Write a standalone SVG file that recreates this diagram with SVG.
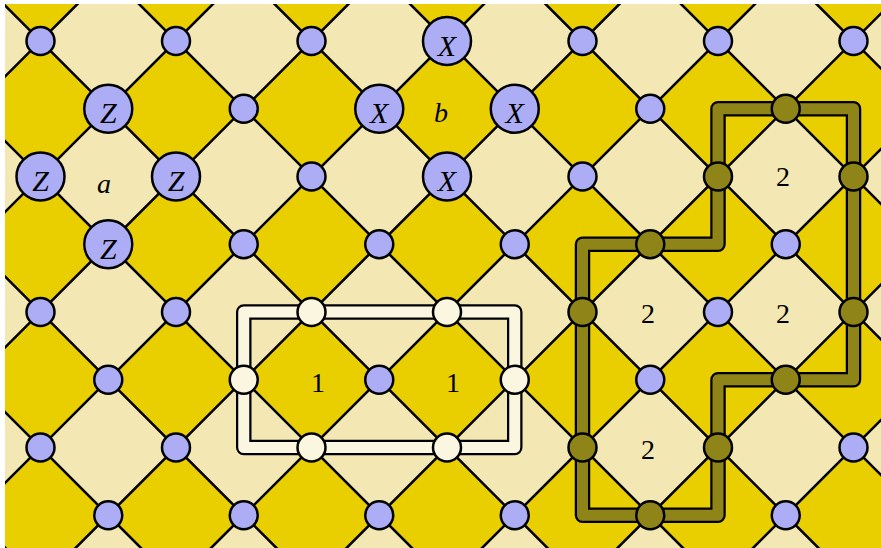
<svg xmlns="http://www.w3.org/2000/svg" xmlns:xlink="http://www.w3.org/1999/xlink" width="881" height="548" viewBox="0 0 881 548">
<style>
.lt{fill:#F3E7B3}
.dk{fill:#E9CF00}
.ln{stroke:#000;stroke-width:2.6;fill:none}
.q{fill:#ADADF5;stroke:#000;stroke-width:2.5}
.qc{fill:#FBF6DF;stroke:#000;stroke-width:2.5}
.qo{fill:#8E8418;stroke:#000;stroke-width:2.5}
.big{font-family:"Liberation Serif","DejaVu Serif",serif;font-style:italic;font-size:30px;text-anchor:middle;fill:#000}
.lab{font-family:"Liberation Serif","DejaVu Serif",serif;font-size:28px;text-anchor:middle;fill:#000}
.labi{font-family:"Liberation Serif","DejaVu Serif",serif;font-style:italic;font-size:28px;text-anchor:middle;fill:#000}
.lpo{fill:none;stroke:#000;stroke-width:15.5;stroke-linejoin:round}
.lpw{fill:none;stroke:#FBF6DF;stroke-width:11;stroke-linejoin:round}
.lpg{fill:none;stroke:#8E8418;stroke-width:11;stroke-linejoin:round}
</style>
<defs>
<clipPath id="clip"><rect x="5" y="4" width="876" height="544"/></clipPath>
<path id="d" d="M0,-67.75L67.75,0L0,67.75L-67.75,0Z"/>
</defs>
<rect width="881" height="548" fill="#fff"/>
<g clip-path="url(#clip)">
<rect class="lt" x="5" y="4" width="876" height="544"/>
<g id="dark-faces" class="dk">
<use xlink:href="#d" x="40.5" y="-26.75"/><use xlink:href="#d" x="176" y="-26.75"/><use xlink:href="#d" x="311.5" y="-26.75"/><use xlink:href="#d" x="447" y="-26.75"/><use xlink:href="#d" x="582.5" y="-26.75"/><use xlink:href="#d" x="718" y="-26.75"/><use xlink:href="#d" x="853.5" y="-26.75"/>
<use xlink:href="#d" x="40.5" y="108.75"/><use xlink:href="#d" x="176" y="108.75"/><use xlink:href="#d" x="311.5" y="108.75"/><use xlink:href="#d" x="447" y="108.75"/><use xlink:href="#d" x="582.5" y="108.75"/><use xlink:href="#d" x="718" y="108.75"/><use xlink:href="#d" x="853.5" y="108.75"/>
<use xlink:href="#d" x="40.5" y="244.25"/><use xlink:href="#d" x="176" y="244.25"/><use xlink:href="#d" x="311.5" y="244.25"/><use xlink:href="#d" x="447" y="244.25"/><use xlink:href="#d" x="582.5" y="244.25"/><use xlink:href="#d" x="718" y="244.25"/><use xlink:href="#d" x="853.5" y="244.25"/>
<use xlink:href="#d" x="40.5" y="379.75"/><use xlink:href="#d" x="176" y="379.75"/><use xlink:href="#d" x="311.5" y="379.75"/><use xlink:href="#d" x="447" y="379.75"/><use xlink:href="#d" x="582.5" y="379.75"/><use xlink:href="#d" x="718" y="379.75"/><use xlink:href="#d" x="853.5" y="379.75"/>
<use xlink:href="#d" x="40.5" y="515.25"/><use xlink:href="#d" x="176" y="515.25"/><use xlink:href="#d" x="311.5" y="515.25"/><use xlink:href="#d" x="447" y="515.25"/><use xlink:href="#d" x="582.5" y="515.25"/><use xlink:href="#d" x="718" y="515.25"/><use xlink:href="#d" x="853.5" y="515.25"/>
</g>
<g id="connectors" class="ln">
<path d="M-642.5,-100L157.5,700M-507,-100L293,700M-371.5,-100L428.5,700M-236,-100L564,700M-100.5,-100L699.5,700M35,-100L835,700M170.5,-100L970.5,700M306,-100L1106,700M441.5,-100L1241.5,700M577,-100L1377,700M712.5,-100L1512.5,700"/>
<path d="M181.5,-100L-618.5,700M317,-100L-483,700M452.5,-100L-347.5,700M588,-100L-212,700M723.5,-100L-76.5,700M859,-100L59,700M994.5,-100L194.5,700M1130,-100L330,700M1265.5,-100L465.5,700M1401,-100L601,700"/>
</g>
</g>
<g id="loop-white">
<path class="lpo" d="M243.75,312H514.75V447.5H243.75Z"/>
<path class="lpw" d="M243.75,312H514.75V447.5H243.75Z"/>
</g>
<g id="loop-olive">
<path class="lpo" d="M582.5,244.25H718V108.75H853.5V379.75H718V515.25H582.5Z"/>
<path class="lpg" d="M582.5,244.25H718V108.75H853.5V379.75H718V515.25H582.5Z"/>
</g>
<g id="qubits">
<g id="q0-0"><circle class="q" cx="40.5" cy="41" r="14"/></g>
<g id="q2-0"><circle class="q" cx="176" cy="41" r="14"/></g>
<g id="q4-0"><circle class="q" cx="311.5" cy="41" r="14"/></g>
<g id="q6-0"><circle class="q" cx="447" cy="41" r="24"/><text class="big" x="447" y="55.5">X</text></g>
<g id="q8-0"><circle class="q" cx="582.5" cy="41" r="14"/></g>
<g id="q10-0"><circle class="q" cx="718" cy="41" r="14"/></g>
<g id="q12-0"><circle class="q" cx="853.5" cy="41" r="14"/></g>
<g id="q1-1"><circle class="q" cx="108.25" cy="108.75" r="24"/><text class="big" x="108.25" y="123.25">Z</text></g>
<g id="q3-1"><circle class="q" cx="243.75" cy="108.75" r="14"/></g>
<g id="q5-1"><circle class="q" cx="379.25" cy="108.75" r="24"/><text class="big" x="379.25" y="123.25">X</text></g>
<g id="q7-1"><circle class="q" cx="514.75" cy="108.75" r="24"/><text class="big" x="514.75" y="123.25">X</text></g>
<g id="q9-1"><circle class="q" cx="650.25" cy="108.75" r="14"/></g>
<g id="q11-1"><circle class="qo" cx="785.75" cy="108.75" r="14"/></g>
<g id="q0-2"><circle class="q" cx="40.5" cy="176.5" r="24"/><text class="big" x="40.5" y="191">Z</text></g>
<g id="q2-2"><circle class="q" cx="176" cy="176.5" r="24"/><text class="big" x="176" y="191">Z</text></g>
<g id="q4-2"><circle class="q" cx="311.5" cy="176.5" r="14"/></g>
<g id="q6-2"><circle class="q" cx="447" cy="176.5" r="24"/><text class="big" x="447" y="191">X</text></g>
<g id="q8-2"><circle class="q" cx="582.5" cy="176.5" r="14"/></g>
<g id="q10-2"><circle class="qo" cx="718" cy="176.5" r="14"/></g>
<g id="q12-2"><circle class="qo" cx="853.5" cy="176.5" r="14"/></g>
<g id="q1-3"><circle class="q" cx="108.25" cy="244.25" r="24"/><text class="big" x="108.25" y="258.75">Z</text></g>
<g id="q3-3"><circle class="q" cx="243.75" cy="244.25" r="14"/></g>
<g id="q5-3"><circle class="q" cx="379.25" cy="244.25" r="14"/></g>
<g id="q7-3"><circle class="q" cx="514.75" cy="244.25" r="14"/></g>
<g id="q9-3"><circle class="qo" cx="650.25" cy="244.25" r="14"/></g>
<g id="q11-3"><circle class="q" cx="785.75" cy="244.25" r="14"/></g>
<g id="q0-4"><circle class="q" cx="40.5" cy="312" r="14"/></g>
<g id="q2-4"><circle class="q" cx="176" cy="312" r="14"/></g>
<g id="q4-4"><circle class="qc" cx="311.5" cy="312" r="14"/></g>
<g id="q6-4"><circle class="qc" cx="447" cy="312" r="14"/></g>
<g id="q8-4"><circle class="qo" cx="582.5" cy="312" r="14"/></g>
<g id="q10-4"><circle class="q" cx="718" cy="312" r="14"/></g>
<g id="q12-4"><circle class="qo" cx="853.5" cy="312" r="14"/></g>
<g id="q1-5"><circle class="q" cx="108.25" cy="379.75" r="14"/></g>
<g id="q3-5"><circle class="qc" cx="243.75" cy="379.75" r="14"/></g>
<g id="q5-5"><circle class="q" cx="379.25" cy="379.75" r="14"/></g>
<g id="q7-5"><circle class="qc" cx="514.75" cy="379.75" r="14"/></g>
<g id="q9-5"><circle class="q" cx="650.25" cy="379.75" r="14"/></g>
<g id="q11-5"><circle class="qo" cx="785.75" cy="379.75" r="14"/></g>
<g id="q0-6"><circle class="q" cx="40.5" cy="447.5" r="14"/></g>
<g id="q2-6"><circle class="q" cx="176" cy="447.5" r="14"/></g>
<g id="q4-6"><circle class="qc" cx="311.5" cy="447.5" r="14"/></g>
<g id="q6-6"><circle class="qc" cx="447" cy="447.5" r="14"/></g>
<g id="q8-6"><circle class="qo" cx="582.5" cy="447.5" r="14"/></g>
<g id="q10-6"><circle class="qo" cx="718" cy="447.5" r="14"/></g>
<g id="q12-6"><circle class="q" cx="853.5" cy="447.5" r="14"/></g>
<g id="q1-7"><circle class="q" cx="108.25" cy="515.25" r="14"/></g>
<g id="q3-7"><circle class="q" cx="243.75" cy="515.25" r="14"/></g>
<g id="q5-7"><circle class="q" cx="379.25" cy="515.25" r="14"/></g>
<g id="q7-7"><circle class="q" cx="514.75" cy="515.25" r="14"/></g>
<g id="q9-7"><circle class="qo" cx="650.25" cy="515.25" r="14"/></g>
<g id="q11-7"><circle class="q" cx="785.75" cy="515.25" r="14"/></g>
</g>
<g id="labels">
<text class="labi" x="104" y="193">a</text>
<text class="labi" x="441" y="121.5">b</text>
<text class="lab" x="318" y="391.5">1</text>
<text class="lab" x="453" y="391.5">1</text>
<text class="lab" x="783" y="186">2</text>
<text class="lab" x="648" y="323">2</text>
<text class="lab" x="783" y="323">2</text>
<text class="lab" x="648" y="459">2</text>
</g>
</svg>
